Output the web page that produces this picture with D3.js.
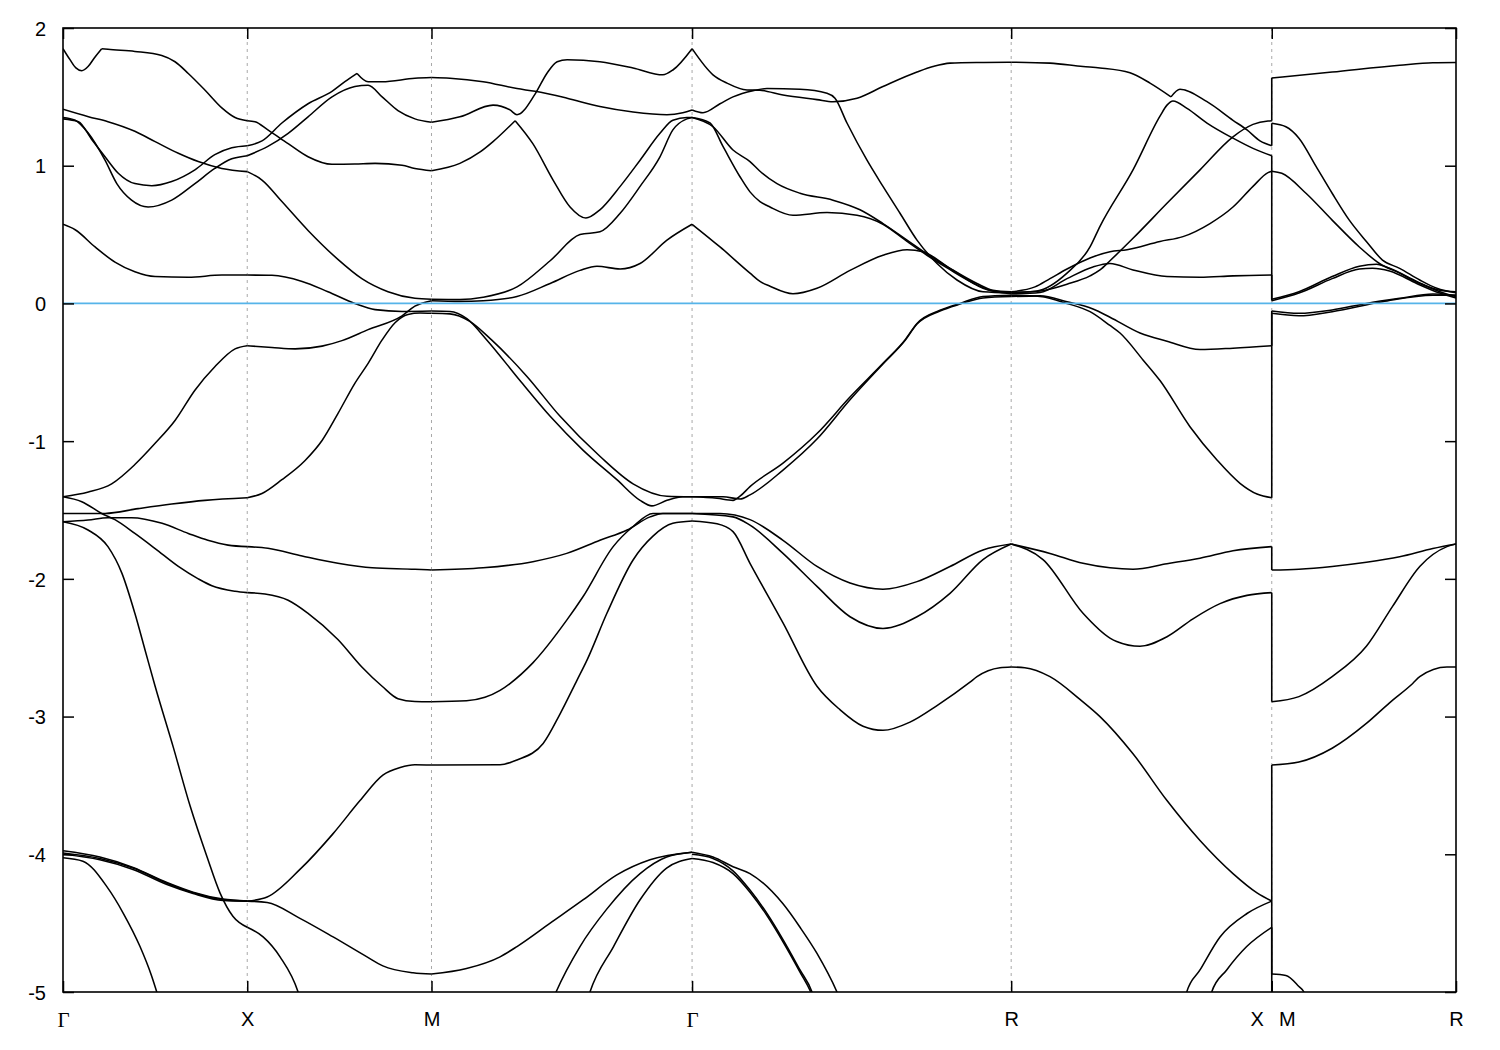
<!DOCTYPE html>
<html><head><meta charset="utf-8">
<script src="https://cdn.jsdelivr.net/npm/d3@7"></script>
<style>body{margin:0;background:#fff}svg{display:block}</style>
</head><body>
<svg id="chart" width="1500" height="1050"></svg>
<script>
// ---- k-path (units of 2π/a) ----
const kTicks = [0, 0.5, 1.0, 1.7071, 2.5731, 3.2802, 3.7802];
const kTickLabels = ["Γ", "X", "M", "Γ", "R", "X|M", "R"];
const energyTicks = [2, 1, 0, -1, -2, -3, -4, -5];
const energyRange = [-5, 2];
const fermiLevel = 0;

// ---- bands, Γ → X → M ----
const bandsGammaXM = [
  [[0,1.85],[0.019,1.77],[0.035,1.71],[0.051,1.69],[0.068,1.72],[0.087,1.79],[0.105,1.85]],
  [[0.105,1.85],[0.122,1.845],[0.195,1.83],[0.268,1.80],[0.304,1.755],[0.340,1.67],[0.385,1.55],[0.431,1.42],[0.467,1.35],[0.5,1.327],[0.521,1.32],[0.556,1.26],[0.611,1.16],[0.665,1.065],[0.730,1.01],[0.792,1.012],[0.847,1.017],[0.920,1.003],[0.955,0.98],[1.0,0.964]],
  [[0,1.41],[0.069,1.356],[0.122,1.32],[0.195,1.25],[0.250,1.175],[0.313,1.09],[0.367,1.03],[0.431,0.98],[0.5,0.957],[0.540,0.896],[0.594,0.74],[0.665,0.53],[0.746,0.32],[0.811,0.18],[0.882,0.085],[0.955,0.037],[1.0,0.03]],
  [[0,1.35],[0.033,1.33],[0.069,1.235],[0.114,1.04],[0.146,0.87],[0.186,0.75],[0.231,0.70],[0.295,0.75],[0.358,0.87],[0.412,0.98],[0.458,1.05],[0.5,1.073],[0.556,1.14],[0.611,1.235],[0.665,1.355],[0.730,1.50],[0.792,1.575],[0.828,1.585],[0.866,1.50],[0.909,1.40],[0.955,1.34],[1.0,1.315]],
  [[0,1.34],[0.042,1.32],[0.078,1.19],[0.114,1.065],[0.150,0.945],[0.195,0.87],[0.241,0.855],[0.295,0.885],[0.358,0.97],[0.412,1.08],[0.458,1.13],[0.5,1.145],[0.540,1.18],[0.594,1.31],[0.665,1.45],[0.730,1.54],[0.765,1.61],[0.798,1.67]],
  [[0.798,1.67],[0.828,1.61],[0.866,1.61],[0.955,1.635],[1.0,1.64]],
  [[0,0.575],[0.033,0.535],[0.087,0.41],[0.141,0.30],[0.195,0.23],[0.250,0.195],[0.340,0.19],[0.431,0.206],[0.5,0.206],[0.567,0.204],[0.649,0.16],[0.719,0.085],[0.792,0.0],[0.847,-0.045],[0.920,-0.058],[1.0,-0.055]],
  [[0,-1.404],[0.069,-1.37],[0.132,-1.31],[0.195,-1.17],[0.250,-1.016],[0.304,-0.85],[0.358,-0.63],[0.412,-0.46],[0.467,-0.33],[0.5,-0.307],[0.567,-0.32],[0.630,-0.33],[0.703,-0.31],[0.757,-0.27],[0.828,-0.19],[0.920,-0.09],[0.955,-0.02],[1.0,0.02]],
  [[0,-1.404],[0.051,-1.44],[0.105,-1.525],[0.141,-1.57],[0.195,-1.67],[0.250,-1.78],[0.313,-1.91],[0.367,-2.0],[0.404,-2.05],[0.467,-2.09],[0.5,-2.10],[0.548,-2.11],[0.611,-2.155],[0.665,-2.25],[0.746,-2.44],[0.811,-2.64],[0.866,-2.78],[0.909,-2.87],[0.955,-2.89],[1.0,-2.892]],
  [[0,-1.525],[0.114,-1.525],[0.204,-1.49],[0.295,-1.457],[0.385,-1.43],[0.5,-1.411],[0.540,-1.38],[0.594,-1.28],[0.657,-1.14],[0.703,-0.995],[0.746,-0.80],[0.792,-0.58],[0.828,-0.435],[0.866,-0.265],[0.901,-0.14],[0.936,-0.08],[0.969,-0.07],[1.0,-0.072]],
  [[0,-1.585],[0.068,-1.573],[0.122,-1.556],[0.186,-1.556],[0.269,-1.597],[0.340,-1.67],[0.393,-1.72],[0.448,-1.755],[0.5,-1.766],[0.556,-1.778],[0.649,-1.834],[0.746,-1.887],[0.839,-1.92],[0.955,-1.93],[1.0,-1.936]],
  [[0,-1.585],[0.068,-1.645],[0.122,-1.766],[0.160,-1.96],[0.195,-2.25],[0.223,-2.52],[0.250,-2.78],[0.299,-3.22],[0.345,-3.65],[0.391,-4.02],[0.426,-4.28],[0.461,-4.45],[0.5,-4.53],[0.543,-4.60],[0.589,-4.745],[0.638,-5.0],[0.645,-5.06]],
  [[0,-3.975],[0.100,-4.02],[0.190,-4.095],[0.282,-4.205],[0.353,-4.275],[0.434,-4.325],[0.5,-4.34]],
  [[0,-3.99],[0.100,-4.03],[0.190,-4.10],[0.282,-4.21],[0.353,-4.28],[0.434,-4.33],[0.5,-4.34]],
  [[0,-4.0],[0.100,-4.04],[0.190,-4.11],[0.282,-4.22],[0.353,-4.285],[0.434,-4.335],[0.5,-4.34]],
  [[0,-4.025],[0.054,-4.05],[0.119,-4.235],[0.164,-4.43],[0.209,-4.67],[0.240,-4.88],[0.258,-5.03]],
  [[0.5,-4.34],[0.554,-4.31],[0.643,-4.11],[0.733,-3.85],[0.806,-3.61],[0.868,-3.425],[0.915,-3.37],[0.955,-3.35],[1.0,-3.352]],
  [[0.5,-4.34],[0.554,-4.35],[0.643,-4.465],[0.733,-4.60],[0.825,-4.745],[0.868,-4.81],[0.950,-4.86],[1.0,-4.87]]
];

// ---- bands, M → Γ ----
const bandsMGamma = [
  [[1.0,0.964],[1.077,1.017],[1.132,1.10],[1.167,1.175],[1.227,1.327]],
  [[1.227,1.327],[1.275,1.16],[1.330,0.896],[1.376,0.70],[1.419,0.62],[1.457,0.68],[1.512,0.85],[1.566,1.04],[1.620,1.235],[1.655,1.33],[1.693,1.35],[1.7071,1.35]],
  [[1.0,0.03],[1.077,0.028],[1.140,0.045],[1.232,0.12],[1.322,0.31],[1.403,0.50],[1.457,0.52],[1.512,0.655],[1.566,0.85],[1.620,1.065],[1.655,1.26],[1.693,1.34],[1.7071,1.35]],
  [[1.0,1.315],[1.077,1.355],[1.167,1.44],[1.213,1.405],[1.232,1.37],[1.281,1.52],[1.313,1.67],[1.341,1.755],[1.368,1.77],[1.457,1.755],[1.547,1.71],[1.628,1.66],[1.655,1.695],[1.7071,1.85]],
  [[1.0,1.64],[1.050,1.635],[1.140,1.61],[1.232,1.56],[1.281,1.54],[1.368,1.49],[1.457,1.43],[1.547,1.39],[1.639,1.37],[1.682,1.385],[1.7071,1.405]],
  [[1.0,0.02],[1.077,0.015],[1.140,0.02],[1.232,0.05],[1.322,0.145],[1.403,0.24],[1.449,0.27],[1.512,0.25],[1.566,0.29],[1.639,0.46],[1.7071,0.575]],
  [[1.0,-0.055],[1.050,-0.058],[1.096,-0.11],[1.150,-0.265],[1.240,-0.56],[1.322,-0.82],[1.411,-1.065],[1.503,-1.28],[1.566,-1.43],[1.598,-1.47],[1.639,-1.43],[1.682,-1.404],[1.7071,-1.404]],
  [[1.0,-0.072],[1.050,-0.076],[1.104,-0.13],[1.163,-0.265],[1.259,-0.53],[1.349,-0.82],[1.457,-1.11],[1.547,-1.31],[1.639,-1.40],[1.7071,-1.404]],
  [[1.0,-1.936],[1.140,-1.92],[1.275,-1.875],[1.367,-1.815],[1.457,-1.72],[1.531,-1.645],[1.593,-1.55],[1.628,-1.525],[1.7071,-1.525]],
  [[1.0,-2.892],[1.095,-2.885],[1.145,-2.86],[1.186,-2.81],[1.213,-2.76],[1.275,-2.61],[1.367,-2.30],[1.411,-2.13],[1.493,-1.766],[1.547,-1.62],[1.601,-1.525],[1.7071,-1.525]],
  [[1.0,-3.352],[1.186,-3.35],[1.232,-3.315],[1.303,-3.195],[1.349,-2.98],[1.395,-2.735],[1.422,-2.59],[1.476,-2.25],[1.547,-1.863],[1.601,-1.69],[1.655,-1.597],[1.7071,-1.58]],
  [[1.0,-4.87],[1.095,-4.83],[1.186,-4.745],[1.232,-4.67],[1.322,-4.50],[1.412,-4.33],[1.503,-4.15],[1.593,-4.04],[1.7071,-3.985]],
  [[1.330,-5.05],[1.338,-5.0],[1.403,-4.67],[1.475,-4.40],[1.566,-4.14],[1.638,-4.02],[1.7071,-3.985]],
  [[1.424,-5.05],[1.430,-5.0],[1.494,-4.67],[1.566,-4.33],[1.638,-4.10],[1.7071,-4.03]]
];

// ---- bands, Γ → R ----
const bandsGammaR = [
  [[1.7071,1.85],[1.7639,1.66],[1.8019,1.60],[1.8562,1.55],[1.8914,1.548],[1.9539,1.513],[2.0461,1.48],[2.0895,1.465],[2.1547,1.49],[2.2252,1.575],[2.3175,1.68],[2.3609,1.72],[2.4071,1.745],[2.4966,1.75],[2.5731,1.752]],
  [[1.7071,1.405],[1.7368,1.385],[1.7829,1.45],[1.8182,1.50],[1.8725,1.545],[1.9104,1.56],[2.0,1.555],[2.0733,1.526],[2.0950,1.49],[2.1275,1.31],[2.1818,1.04],[2.2252,0.85],[2.2714,0.655],[2.3175,0.46],[2.3718,0.29],[2.4260,0.17],[2.4966,0.085],[2.5731,0.077]],
  [[1.7071,1.35],[1.7639,1.283],[1.8182,1.114],[1.8643,1.03],[1.8914,0.96],[1.9376,0.87],[2.0,0.80],[2.0895,0.75],[2.1628,0.68],[2.2252,0.58],[2.2904,0.46],[2.3446,0.36],[2.4071,0.255],[2.4803,0.145],[2.5237,0.096],[2.5731,0.085]],
  [[1.7071,1.35],[1.7558,1.31],[1.7910,1.14],[1.8372,0.92],[1.8643,0.81],[1.8914,0.74],[1.9186,0.70],[1.9810,0.64],[2.0733,0.66],[2.1547,0.64],[2.2252,0.575],[2.2904,0.45],[2.3446,0.35],[2.4071,0.245],[2.4803,0.135],[2.5237,0.09],[2.5731,0.08]],
  [[1.7071,0.575],[1.7829,0.41],[1.8643,0.22],[1.8914,0.16],[1.9186,0.125],[1.9810,0.07],[2.0461,0.11],[2.1357,0.24],[2.2252,0.35],[2.2904,0.39],[2.3338,0.375],[2.4071,0.255],[2.4966,0.11],[2.5731,0.07]],
  [[1.7071,-1.404],[1.7748,-1.415],[1.8182,-1.43],[1.8372,-1.40],[1.8643,-1.33],[1.9539,-1.16],[2.0461,-0.945],[2.1357,-0.68],[2.2252,-0.435],[2.2849,-0.265],[2.3175,-0.145],[2.3799,-0.05],[2.4342,0.0],[2.4966,0.05],[2.5731,0.06]],
  [[1.7071,-1.404],[1.7910,-1.404],[1.8372,-1.42],[1.8643,-1.39],[1.9539,-1.21],[2.0461,-0.985],[2.1357,-0.70],[2.2252,-0.44],[2.2849,-0.27],[2.3175,-0.15],[2.3799,-0.055],[2.4342,-0.005],[2.4966,0.04],[2.5731,0.05]],
  [[1.7071,-1.525],[1.7829,-1.525],[1.8643,-1.57],[1.9539,-1.72],[2.0461,-1.91],[2.1357,-2.03],[2.2252,-2.075],[2.3175,-2.02],[2.4071,-1.91],[2.4966,-1.79],[2.5731,-1.747]],
  [[1.7071,-1.525],[1.8182,-1.55],[1.8643,-1.61],[1.9539,-1.815],[2.0461,-2.055],[2.1357,-2.275],[2.2252,-2.36],[2.3175,-2.275],[2.4071,-2.105],[2.4966,-1.86],[2.5731,-1.747]],
  [[1.7071,-1.58],[1.7748,-1.60],[1.8182,-1.657],[1.8643,-1.887],[1.9539,-2.32],[2.0461,-2.78],[2.1085,-2.95],[2.1710,-3.07],[2.2252,-3.10],[2.2985,-3.04],[2.3718,-2.92],[2.4613,-2.75],[2.4803,-2.71],[2.5427,-2.645],[2.5731,-2.64]],
  [[1.7071,-3.985],[1.7639,-4.02],[1.8182,-4.09],[1.8643,-4.14],[1.9539,-4.36],[2.0,-4.53],[2.0461,-4.72],[2.1004,-5.0],[2.11,-5.06]],
  [[1.7071,-4.0],[1.7639,-4.03],[1.8182,-4.12],[1.8643,-4.26],[1.9104,-4.43],[1.9539,-4.62],[2.0,-4.84],[2.0326,-5.0],[2.04,-5.06]],
  [[1.7071,-4.03],[1.7639,-4.06],[1.8182,-4.14],[1.8643,-4.275],[1.9104,-4.445],[1.9539,-4.635],[2.0,-4.855],[2.0326,-5.02],[2.04,-5.07]]
];

// ---- bands, R → X ----
const bandsRX = [
  [[2.5731,1.752],[2.6784,1.745],[2.7680,1.72],[2.8141,1.71],[2.8955,1.675],[2.9498,1.60],[3.0068,1.50]],
  [[3.0068,1.50],[3.0312,1.555],[3.1045,1.465],[3.1750,1.33],[3.2130,1.26],[3.2483,1.18],[3.2802,1.145]],
  [[2.5731,0.077],[2.6431,0.09],[2.7246,0.22],[2.7870,0.41],[2.8141,0.56],[2.9037,0.97],[2.9769,1.36],[2.9959,1.44],[3.0122,1.47],[3.0502,1.417],[3.1045,1.31],[3.1750,1.20],[3.2293,1.126],[3.2802,1.073]],
  [[2.5731,0.085],[2.6377,0.12],[2.6784,0.18],[2.7246,0.25],[2.7870,0.33],[2.8412,0.375],[2.8874,0.39],[2.9769,0.45],[3.0393,0.485],[3.1126,0.58],[3.1750,0.70],[3.2293,0.85],[3.2700,0.95],[3.2802,0.96]],
  [[2.5731,0.08],[2.6513,0.09],[2.7246,0.14],[2.7870,0.2],[2.8141,0.243],[2.8412,0.31],[2.9037,0.473],[2.9959,0.727],[3.0855,0.97],[3.1750,1.21],[3.2293,1.30],[3.2700,1.325],[3.2802,1.327]],
  [[2.5731,0.07],[2.6513,0.08],[2.7246,0.18],[2.7951,0.265],[2.8412,0.29],[2.9037,0.243],[2.9959,0.195],[3.0855,0.19],[3.1750,0.20],[3.2802,0.206]],
  [[2.5731,0.06],[2.6513,0.05],[2.7246,0.0],[2.7870,-0.06],[2.8412,-0.16],[2.8684,-0.215],[2.9308,-0.41],[2.9769,-0.56],[3.0583,-0.895],[3.1316,-1.137],[3.1940,-1.306],[3.2402,-1.384],[3.2802,-1.411]],
  [[2.5731,0.05],[2.6513,0.055],[2.7246,0.013],[2.7951,-0.04],[2.8412,-0.1],[2.9227,-0.215],[2.9959,-0.275],[3.0855,-0.335],[3.1750,-0.325],[3.2802,-0.307]],
  [[2.5731,-1.747],[2.6784,-1.815],[2.7680,-1.887],[2.8412,-1.92],[2.9037,-1.93],[2.9959,-1.89],[3.0855,-1.85],[3.1750,-1.796],[3.2802,-1.766]],
  [[2.5731,-1.747],[2.6594,-1.86],[2.7680,-2.25],[2.8412,-2.43],[2.8594,-2.455],[2.9227,-2.49],[2.9959,-2.42],[3.0665,-2.29],[3.1398,-2.18],[3.2130,-2.12],[3.2802,-2.10]],
  [[2.5731,-2.64],[2.6100,-2.645],[2.6784,-2.71],[2.7598,-2.875],[2.8141,-3.0],[2.9037,-3.27],[2.9959,-3.61],[3.0855,-3.90],[3.1750,-4.14],[3.2402,-4.28],[3.2802,-4.34]],
  [[3.045,-5.05],[3.0494,-5.0],[3.0855,-4.84],[3.1398,-4.60],[3.2130,-4.43],[3.2802,-4.34]],
  [[3.113,-5.05],[3.1172,-5.0],[3.1579,-4.84],[3.2122,-4.67],[3.2802,-4.53]]
];

// ---- bands, M → R ----
const bandsMR = [
  [[3.2802,1.637],[3.4441,1.68],[3.6272,1.73],[3.7173,1.748],[3.7802,1.75]],
  [[3.2802,1.308],[3.3185,1.283],[3.3540,1.20],[3.4004,0.995],[3.4441,0.80],[3.4906,0.605],[3.5370,0.45],[3.5807,0.315],[3.6272,0.255],[3.6818,0.17],[3.7282,0.11],[3.7802,0.077]],
  [[3.2802,0.96],[3.3075,0.945],[3.3731,0.80],[3.4441,0.605],[3.5179,0.41],[3.5725,0.29],[3.6272,0.22],[3.6818,0.145],[3.7364,0.096],[3.7802,0.085]],
  [[3.2802,0.03],[3.3540,0.085],[3.4441,0.195],[3.5179,0.27],[3.5643,0.285],[3.5998,0.255],[3.6736,0.16],[3.7364,0.085],[3.7802,0.05]],
  [[3.2802,0.02],[3.3540,0.075],[3.4441,0.18],[3.5179,0.25],[3.5534,0.255],[3.5998,0.235],[3.6736,0.145],[3.7364,0.075],[3.7802,0.04]],
  [[3.2802,-0.055],[3.3540,-0.072],[3.4441,-0.048],[3.5370,0.0],[3.6272,0.037],[3.7173,0.069],[3.7802,0.06]],
  [[3.2802,-0.072],[3.3540,-0.09],[3.4441,-0.06],[3.5807,0.012],[3.7173,0.06],[3.7802,0.06]],
  [[3.2802,-1.936],[3.3540,-1.93],[3.4441,-1.91],[3.5370,-1.88],[3.6272,-1.84],[3.7173,-1.78],[3.7802,-1.747]],
  [[3.2802,-2.892],[3.3540,-2.855],[3.4441,-2.71],[3.5370,-2.49],[3.6080,-2.20],[3.6818,-1.91],[3.7556,-1.766],[3.7802,-1.747]],
  [[3.2802,-3.352],[3.3540,-3.33],[3.4441,-3.23],[3.5370,-3.05],[3.5998,-2.90],[3.6627,-2.76],[3.6818,-2.71],[3.7556,-2.64],[3.7802,-2.64]],
  [[3.2802,-4.87],[3.3185,-4.88],[3.3540,-4.96],[3.3676,-5.0],[3.372,-5.05]]
];

// ---- X|M discontinuity: energy at X (end of R–X) joined to energy at M (start of M–R) ----
const junctionEnergyX = [1.327, 1.145, 1.073, 0.96, 0.206, -0.307, -1.411, -1.766, -2.10, -4.34, -4.34, -4.53];
const junctionEnergyM = [1.637, 1.308, 0.96, 0.03, 0.02, -0.055, -0.072, -1.936, -2.892, -3.352, -4.87, -5.3];

// ================= drawing =================
const plot = {left: 63, top: 28, right: 1456, bottom: 992};
const svg = d3.select("#chart");
const x = d3.scaleLinear().domain([kTicks[0], kTicks[kTicks.length - 1]]).range([plot.left, plot.right]);
const y = d3.scaleLinear().domain(energyRange).range([plot.bottom, plot.top]);

svg.append("defs").append("clipPath").attr("id", "clip")
  .append("rect").attr("x", plot.left).attr("y", plot.top)
  .attr("width", plot.right - plot.left).attr("height", plot.bottom - plot.top);

// dashed high-symmetry lines
svg.append("g").selectAll("line").data(kTicks.slice(1, -1)).join("line")
  .attr("x1", d => x(d)).attr("x2", d => x(d))
  .attr("y1", plot.top).attr("y2", plot.bottom)
  .attr("stroke", "#a8a8a8").attr("stroke-width", 1).attr("stroke-dasharray", "3,4");

// split a polyline at interior high-symmetry points
function splitAtSym(pts) {
  const out = []; let cur = [pts[0]];
  for (let i = 1; i < pts.length; i++) {
    cur.push(pts[i]);
    const onSym = kTicks.some(t => Math.abs(t - pts[i][0]) < 1e-4);
    if (onSym && i < pts.length - 1) { out.push(cur); cur = [pts[i]]; }
  }
  out.push(cur);
  return out;
}
const line = d3.line().x(d => x(d[0])).y(d => y(d[1])).curve(d3.curveMonotoneX);
const allBands = [].concat(bandsGammaXM, bandsMGamma, bandsGammaR, bandsRX, bandsMR);
const pieces = allBands.flatMap(splitAtSym);

const gBands = svg.append("g").attr("clip-path", "url(#clip)");
gBands.selectAll("path").data(pieces).join("path")
  .attr("d", line).attr("fill", "none").attr("stroke", "#000")
  .attr("stroke-width", 1.55).attr("stroke-linejoin", "round");

gBands.selectAll("line.junction").data(d3.range(junctionEnergyX.length)).join("line")
  .attr("class", "junction")
  .attr("x1", x(kTicks[5])).attr("x2", x(kTicks[5]))
  .attr("y1", i => y(junctionEnergyX[i])).attr("y2", i => y(junctionEnergyM[i]))
  .attr("stroke", "#000").attr("stroke-width", 1.6);

// Fermi level
svg.append("line")
  .attr("x1", plot.left).attr("x2", plot.right)
  .attr("y1", y(fermiLevel)).attr("y2", y(fermiLevel))
  .attr("stroke", "#56b4e9").attr("stroke-width", 1.8);

// axes (ticks inward)
const tickLen = 11;
const axB = svg.append("g").attr("transform", `translate(0,${plot.bottom})`)
  .call(d3.axisBottom(x).tickValues(kTicks).tickSize(-tickLen).tickPadding(20).tickFormat((d, i) => kTickLabels[i]));
const axT = svg.append("g").attr("transform", `translate(0,${plot.top})`)
  .call(d3.axisTop(x).tickValues(kTicks).tickSize(-tickLen).tickFormat(""));
const axL = svg.append("g").attr("transform", `translate(${plot.left},0)`)
  .call(d3.axisLeft(y).tickValues(energyTicks).tickSize(-tickLen).tickPadding(17).tickFormat(d => String(d)));
const axR = svg.append("g").attr("transform", `translate(${plot.right},0)`)
  .call(d3.axisRight(y).tickValues(energyTicks).tickSize(-tickLen).tickFormat(""));

[axB, axT, axL, axR].forEach(a => {
  a.select(".domain").remove();
  a.selectAll(".tick line").attr("stroke", "#000").attr("stroke-width", 1.5);
  a.selectAll(".tick text").attr("fill", "#000")
    .style("font-family", "'Liberation Sans', Arial, sans-serif").style("font-size", "20px");
});
axL.selectAll(".tick text").attr("dy", "0.36em");

// Γ in serif; "X|M" split into two labels
axB.selectAll(".tick text").each(function (d, i) {
  const t = d3.select(this);
  const lab = kTickLabels[i];
  if (lab === "Γ") t.style("font-family", "'Liberation Serif', 'Times New Roman', serif").style("font-size", "21px");
  if (lab.includes("|")) {
    const [a, b] = lab.split("|");
    t.text(null);
    t.append("tspan").attr("x", -15).text(a);
    t.append("tspan").attr("x", 15).text(b);
  }
});

// frame
svg.append("rect").attr("x", plot.left).attr("y", plot.top)
  .attr("width", plot.right - plot.left).attr("height", plot.bottom - plot.top)
  .attr("fill", "none").attr("stroke", "#000").attr("stroke-width", 1.6);
</script>
</body></html>
